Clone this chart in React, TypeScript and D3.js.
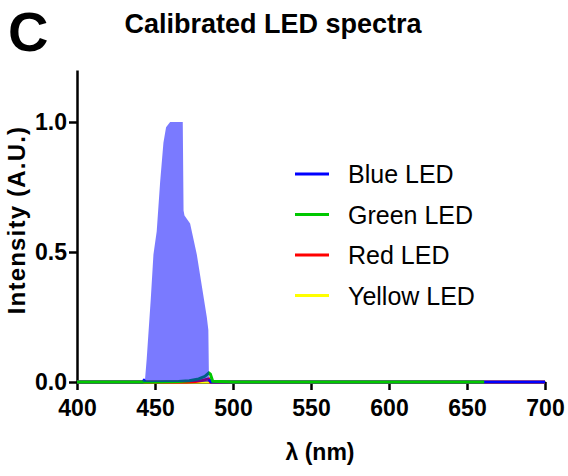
import React, { useEffect, useRef } from "react";
import * as d3 from "d3";

// wavelength (nm) / intensity pairs
const blueWl = [400, 442, 443.6, 444.7, 447.3, 449.0, 451.1, 453.3, 455.4, 457.1, 459.7, 467.8, 468.3, 468.9, 472.5, 476.8, 480.0, 483.2, 484.2, 484.6, 486, 500, 550, 600, 650, 700];
const blueVal = [0, 0, 0.01, 0.09, 0.32, 0.49, 0.58, 0.77, 0.92, 0.98, 1.0, 1.0, 0.66, 0.64, 0.61, 0.49, 0.37, 0.25, 0.2, 0.01, 0, 0, 0, 0, 0, 0];

const greenWl = [400, 450, 465, 472, 478, 482, 484.5, 485.5, 487, 500, 550, 600, 650, 661];
const greenVal = [0, 0, 0.002, 0.005, 0.012, 0.022, 0.035, 0.03, 0.003, 0, 0, 0, 0, 0];

const redWl = [400, 470, 476, 480, 483, 484.5, 485.5, 500, 600, 700];
const redVal = [0, 0, 0.002, 0.006, 0.01, 0.012, 0, 0, 0, 0];

const yellowWl = [400, 500, 600, 700];
const yellowVal = [0, 0, 0, 0];

const xTicks = [400, 450, 500, 550, 600, 650, 700];
const yTicks = [0, 0.5, 1.0];
const legendNames = ["Blue LED", "Green LED", "Red LED", "Yellow LED"];
const legendColors = ["#0000ff", "#00c800", "#ff0000", "#ffff00"];

const W = 568,
  H = 476;
const FONT = "'Liberation Sans', Arial, Helvetica, sans-serif";

type Pt = { wl: number; v: number };
const zip = (wl: number[], v: number[]): Pt[] => wl.map((w, i) => ({ wl: w, v: v[i] }));

export default function App() {
  const ref = useRef<SVGSVGElement>(null);

  useEffect(() => {
    const svg = d3.select(ref.current);
    svg.selectAll("*").remove();

    const margin = { left: 77, right: 23, top: 70, bottom: 94 };
    const x = d3.scaleLinear().domain([400, 700]).range([margin.left, W - margin.right]);
    const y = d3.scaleLinear().domain([0, 1.2]).range([H - margin.bottom, margin.top]);

    // panel letter and title
    svg.append("text").attr("x", 8).attr("y", 51).attr("font-family", FONT)
      .attr("font-weight", "bold").attr("font-size", 56).text("C");
    svg.append("text").attr("x", 273).attr("y", 33).attr("text-anchor", "middle")
      .attr("font-family", FONT).attr("font-weight", "bold").attr("font-size", 27)
      .text("Calibrated LED spectra");

    // axes first, the traces sit on top of them
    const axisColor = "#000";
    const xAxis = svg.append("g").attr("transform", `translate(0,${y(0)})`)
      .call(d3.axisBottom(x).tickValues(xTicks).tickSize(8).tickSizeOuter(0).tickPadding(10));
    xAxis.select(".domain").attr("stroke", axisColor).attr("stroke-width", 2.5);
    xAxis.selectAll(".tick line").attr("stroke", axisColor).attr("stroke-width", 2.5);
    xAxis.selectAll("text").attr("font-family", FONT).attr("font-weight", "bold")
      .attr("font-size", 23).attr("fill", "#000").attr("dy", "0.71em");

    const yAxis = svg.append("g").attr("transform", `translate(${x(400)},0)`)
      .call(d3.axisLeft(y).tickValues(yTicks).tickFormat(d3.format(".1f")).tickSize(8).tickSizeOuter(0).tickPadding(2));
    yAxis.select(".domain").attr("stroke", axisColor).attr("stroke-width", 2.5);
    yAxis.selectAll(".tick line").attr("stroke", axisColor).attr("stroke-width", 2.5);
    yAxis.selectAll("text").attr("font-family", FONT).attr("font-weight", "bold")
      .attr("font-size", 23).attr("fill", "#000");

    const line = d3.line<Pt>().x(d => x(d.wl)).y(d => y(d.v));
    const floorLine = d3.line<Pt>().x(d => x(d.wl)).y(d => y(d.v)).defined(d => d.v < 0.03);
    const area = d3.area<Pt>().x(d => x(d.wl)).y0(y(0)).y1(d => y(d.v));

    const plot = svg.append("g");

    // lines under the translucent blue fill
    plot.append("path").datum(zip(yellowWl, yellowVal)).attr("d", line)
      .attr("fill", "none").attr("stroke", legendColors[3]).attr("stroke-width", 3);
    plot.append("path").datum(zip(redWl, redVal)).attr("d", line)
      .attr("fill", "none").attr("stroke", legendColors[2]).attr("stroke-width", 3);
    // blue outline only along the floor, the peak itself has no dark edge
    plot.append("path").datum(zip(blueWl, blueVal)).attr("d", floorLine)
      .attr("fill", "none").attr("stroke", legendColors[0]).attr("stroke-width", 3);
    plot.append("path").datum(zip(greenWl, greenVal)).attr("d", line)
      .attr("fill", "none").attr("stroke", legendColors[1]).attr("stroke-width", 3);
    plot.append("path").datum(zip(blueWl, blueVal)).attr("d", area)
      .attr("fill", "#0000ff").attr("fill-opacity", 0.52);

    // axis titles
    svg.append("text").attr("x", 320).attr("y", 460).attr("text-anchor", "middle")
      .attr("font-family", FONT).attr("font-weight", "bold").attr("font-size", 23)
      .text("λ (nm)");
    svg.append("text").attr("transform", `translate(25,220) rotate(-90)`)
      .attr("text-anchor", "middle").attr("font-family", FONT).attr("font-weight", "bold")
      .attr("font-size", 24).attr("letter-spacing", 1.2).text("Intensity (A.U.)");

    // legend
    const legend = svg.append("g");
    legendNames.forEach((name, i) => {
      const ly = 174 + i * 40.5;
      legend.append("line").attr("x1", 295).attr("x2", 329).attr("y1", ly).attr("y2", ly)
        .attr("stroke", legendColors[i]).attr("stroke-width", 3);
      legend.append("text").attr("x", 348).attr("y", ly + 9).attr("font-family", FONT)
        .attr("font-size", 25).attr("fill", "#000").text(name);
    });
  }, []);

  return (
    <div style={{ position: "absolute", left: 0, top: 0 }}>
      <svg ref={ref} width={W} height={H} style={{ display: "block", background: "#fff" }} />
    </div>
  );
}
